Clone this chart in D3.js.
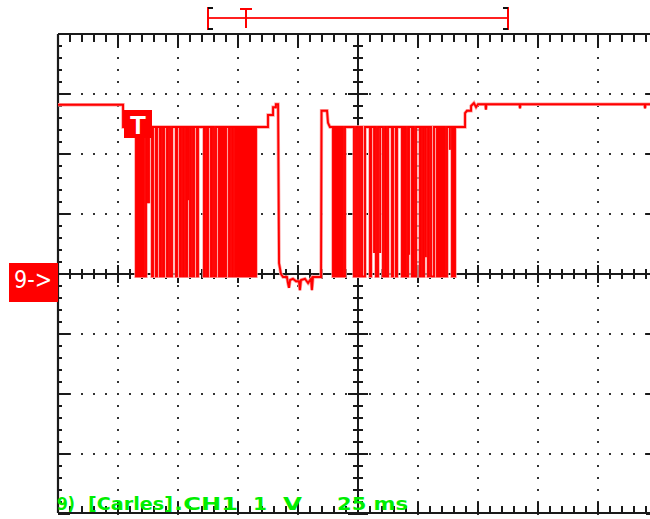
<!DOCTYPE html>
<html lang="en">

<head>
    <meta charset="UTF-8">
    <title>Scope capture</title>
    <script src="https://d3js.org/d3.v7.min.js"></script>
    <style>
        body {
            margin: 0;
            background: #fff;
        }

        svg {
            display: block;
        }

        .trace {
            fill: none;
            stroke: #ff0000;
            stroke-width: 1.9;
        }

        .halo {
            fill: none;
            stroke: #ffa0a0;
            stroke-width: 3.4;
        }

        .frame line {
            stroke: #1a1a1a;
        }

        .dot {
            fill: #333;
        }

        .label {
            font-family: "DejaVu Sans", sans-serif;
            font-weight: bold;
            font-size: 17px;
            fill: #00ee00;
        }
    </style>
</head>

<body>
    <svg></svg>
</body>

<script>
    // ---- data (time in ms, level in V) ----
    const msPerDiv = 25;
    const voltsPerDiv = 1;
    const highLevel = 2.45;
    const lowLevel = -0.04;

    // idle level before the first burst
    const startT = [0, 27.1, 27.1, 32.5];
    const startV = [2.82, 2.82, 2.45, 2.45];

    // toggle instants of the first frame burst
    const burst1Edges = [32.5, 32.92, 33.33, 33.75, 34.17, 34.58, 35.0, 35.42, 35.83, 36.67,
        39.17, 39.58, 40.83, 41.25, 42.5, 42.92, 43.75, 44.17, 45.42, 45.83,
        46.67, 47.5, 49.17, 49.58, 50.83, 51.25, 52.08, 52.5, 53.33, 53.75,
        55.0, 55.42, 56.25, 56.67, 57.92, 58.33, 60.83, 61.25, 62.08, 62.5,
        63.75, 64.17, 65.0, 65.83, 67.08, 67.5, 67.92, 68.33, 68.75, 69.17,
        69.58, 70.0, 71.25, 71.67, 72.5, 72.92, 73.75, 74.17, 74.58, 75.0,
        75.42, 75.83, 76.25, 76.67, 77.08, 77.5, 77.92, 78.33, 78.75, 79.17,
        79.58, 80.0, 80.42, 80.83, 81.25, 81.67, 82.08, 82.5];

    // gap between the bursts
    const midT = [82.5, 87.5, 87.5, 89.6, 89.6, 90.8, 90.8, 91.7, 92.1, 92.9, 93.75,
        95.4, 95.8, 96.25, 96.7, 97.9, 99.2, 100.4, 100.8, 101.25, 102.9, 104.2,
        105.4, 105.8, 106.25, 109.6, 109.8, 112.1, 112.5, 113.3, 114.58];
    const midV = [2.45, 2.45, 2.65, 2.65, 2.78, 2.78, 2.83, 2.83, 0.18, 0.0, -0.05,
        -0.05, -0.15, -0.23, -0.1, -0.08, -0.12, -0.12, -0.27, -0.1, -0.08, -0.15,
        -0.08, -0.27, -0.05, -0.05, 2.72, 2.72, 2.52, 2.45, 2.45];

    // toggle instants of the second frame burst
    const burst2Edges = [114.58, 115.0, 115.42, 115.83, 116.25, 116.67, 117.08, 117.5, 117.92, 118.33,
        118.75, 119.58, 123.33, 124.17, 125.0, 125.83, 126.67, 127.92, 130.0, 130.42,
        132.5, 133.33, 135.42, 136.25, 136.67, 137.5, 139.17, 139.58, 140.83, 141.25,
        143.33, 143.75, 144.17, 144.58, 145.0, 145.83, 147.5, 147.92, 148.33, 149.17,
        150.83, 151.25, 152.08, 152.5, 154.17, 154.58, 155.42, 156.67, 157.92, 158.33,
        158.75, 159.17, 159.58, 160.0, 160.42, 160.83, 161.25, 162.08, 164.17, 164.58,
        165.0, 165.42];

    // back to idle
    const endT = [165.42, 169.6, 169.6, 170.4, 172.1, 172.1, 173.3, 174.2, 175, 178.1,
        178.3, 178.5, 192.3, 192.5, 192.7, 244.4, 244.6, 244.8, 250];
    const endV = [2.45, 2.45, 2.68, 2.72, 2.72, 2.8, 2.85, 2.78, 2.83, 2.83,
        2.74, 2.83, 2.83, 2.76, 2.83, 2.83, 2.76, 2.83, 2.83];

    // short glitches that do not reach the low level
    const glitchT = [37.1, 37.9, 54.2, 131.7, 134.2, 146.25, 153.3, 163.3];
    const glitchV = [1.18, 1.18, 1.23, 0.35, 0.35, 0.32, 0.28, 2.07];

    // status line
    const labelText = ["9)", "[Carles]", ".CH1", "1", "V", "25 ms"];

    // ---- layout ----
    const plot = { left: 58, top: 34, width: 600, height: 480 };

    const svg = d3.select("svg")
        .attr("width", 650)
        .attr("height", 519);

    const x = d3.scaleLinear()
        .domain([0, 10 * msPerDiv])
        .range([plot.left, plot.left + plot.width]);

    const y = d3.scaleLinear()
        .domain([-4 * voltsPerDiv, 4 * voltsPerDiv])
        .range([plot.top + plot.height, plot.top]);

    const minorT = d3.range(0, 10 * msPerDiv + 0.01, msPerDiv / 5);
    const minorV = d3.range(-4, 4.001, 0.2).map(v => Math.round(v * 10) / 10);
    const isMajorT = t => Math.abs(t % msPerDiv) < 0.01;
    const isMajorV = v => Math.abs(v - Math.round(v)) < 0.01;

    // dotted grid
    const dots = [];
    d3.range(1, 10).filter(i => i !== 5).forEach(i => {
        minorV.forEach(v => dots.push([i * msPerDiv, v]));
    });
    [-3, -2, -1, 1, 2, 3].forEach(v => {
        minorT.forEach(t => dots.push([t, v]));
    });
    svg.append("g").selectAll("rect")
        .data(dots)
        .enter().append("rect")
        .attr("class", "dot")
        .attr("x", d => x(d[0]) - 1)
        .attr("y", d => y(d[1]) - 1)
        .attr("width", 2)
        .attr("height", 2);

    // frame + crosshair with ticks
    const frame = svg.append("g").attr("class", "frame");

    function tickLines(data, fn, w) {
        frame.append("g").selectAll("line")
            .data(data)
            .enter().append("line")
            .each(function (d) {
                const c = fn(d);
                d3.select(this).attr("x1", c[0]).attr("y1", c[1]).attr("x2", c[2]).attr("y2", c[3]);
            })
            .attr("stroke-width", w);
    }

    const x0 = x(0), x1 = x(250), yTop = y(4), yBot = y(-4) - 1;
    // border lines
    tickLines([[x0, yTop, x1, yTop], [x0, yBot, x1, yBot], [x0, yTop, x0, yBot], [x1, yTop, x1, yBot]],
        d => d, 2.2);
    // top / bottom ticks
    tickLines(minorT, t => [x(t), yTop, x(t), yTop + (isMajorT(t) ? 14 : 8)], 2);
    tickLines(minorT, t => [x(t), yBot, x(t), yBot - (isMajorT(t) ? 11 : 7)], 2);
    // left / right ticks
    tickLines(minorV, v => [x0, y(v), x0 + (isMajorV(v) ? 12 : 4), y(v)], 2);
    tickLines(minorV, v => [x1, y(v), x1 - (isMajorV(v) ? 12 : 4), y(v)], 2);
    // crosshair
    tickLines([[x0, y(0), x1, y(0)], [x(125), yTop, x(125), yBot]], d => d, 2);
    tickLines(minorT, t => [x(t), y(0) - (isMajorT(t) ? 9 : 5), x(t), y(0) + (isMajorT(t) ? 9 : 5)], 2);
    tickLines(minorV, v => [x(125) - (isMajorV(v) ? 10 : 5), y(v), x(125) + (isMajorV(v) ? 10 : 5), y(v)], 2);

    // build the trace
    const pts = [];
    function addSteps(ts, vs) {
        ts.forEach((t, i) => pts.push([t, vs[i]]));
    }
    function addBurst(edges) {
        let v = highLevel;
        edges.forEach(t => {
            pts.push([t, v]);
            v = v === highLevel ? lowLevel : highLevel;
            pts.push([t, v]);
        });
    }
    addSteps(startT, startV);
    addBurst(burst1Edges);
    addSteps(midT, midV);
    addBurst(burst2Edges);
    addSteps(endT, endV);

    const line = d3.line()
        .x(d => x(d[0]))
        .y(d => y(d[1]));

    const traceG = svg.append("g");
    ["halo", "trace"].forEach(cls => {
        traceG.append("path")
            .datum(pts)
            .attr("class", cls)
            .attr("d", line);
        traceG.append("g").selectAll("line")
            .data(glitchT)
            .enter().append("line")
            .attr("class", cls)
            .attr("x1", d => x(d))
            .attr("x2", d => x(d))
            .attr("y1", y(highLevel))
            .attr("y2", (d, i) => y(glitchV[i]));
    });

    // trigger flag
    const trig = svg.append("g");
    trig.append("rect")
        .attr("x", 124).attr("y", 110)
        .attr("width", 28).attr("height", 28)
        .attr("fill", "#ff0000");
    trig.append("text")
        .attr("x", 138).attr("y", 134)
        .attr("text-anchor", "middle")
        .attr("font-family", "Liberation Sans, Arial, sans-serif")
        .attr("font-weight", "bold")
        .attr("font-size", 26)
        .attr("fill", "#fff")
        .text("T");

    // channel marker
    const marker = svg.append("g");
    marker.append("rect")
        .attr("x", 9).attr("y", 263)
        .attr("width", 49).attr("height", 39)
        .attr("fill", "#ff0000");
    marker.append("text")
        .attr("x", 14).attr("y", 288)
        .attr("font-family", "DejaVu Sans, sans-serif")
        .attr("font-size", 24)
        .attr("textLength", 38)
        .attr("lengthAdjust", "spacingAndGlyphs")
        .attr("fill", "#fff")
        .text("9->");

    // top time-window bracket
    const br = svg.append("g");
    br.append("line").attr("x1", 208).attr("x2", 508).attr("y1", 18).attr("y2", 18)
        .attr("stroke", "#ff2020").attr("stroke-width", 2);
    br.append("line").attr("x1", 208).attr("x2", 208).attr("y1", 7).attr("y2", 30)
        .attr("stroke", "#ff0000").attr("stroke-width", 2);
    br.append("line").attr("x1", 508).attr("x2", 508).attr("y1", 7).attr("y2", 30)
        .attr("stroke", "#ff0000").attr("stroke-width", 2);
    [[208, 213, 8], [208, 213, 29], [503, 508, 8], [503, 508, 29]].forEach(d => {
        br.append("line").attr("x1", d[0]).attr("x2", d[1]).attr("y1", d[2]).attr("y2", d[2])
            .attr("stroke", "#111").attr("stroke-width", 2);
    });
    br.append("line").attr("x1", 246).attr("x2", 246).attr("y1", 8).attr("y2", 28)
        .attr("stroke", "#ff0000").attr("stroke-width", 2);
    br.append("line").attr("x1", 240).attr("x2", 252).attr("y1", 9).attr("y2", 9)
        .attr("stroke", "#ff0000").attr("stroke-width", 2);

    // status text
    const labelX = [57, 88, 174, 253, 283, 337];
    const labelW = [18, 85, 64, 14, 19, 71];
    svg.append("g").selectAll("text")
        .data(labelText)
        .enter().append("text")
        .attr("class", "label")
        .attr("x", (d, i) => labelX[i])
        .attr("y", 510)
        .attr("textLength", (d, i) => labelW[i])
        .attr("lengthAdjust", "spacingAndGlyphs")
        .text(d => d);
</script>

</html>
